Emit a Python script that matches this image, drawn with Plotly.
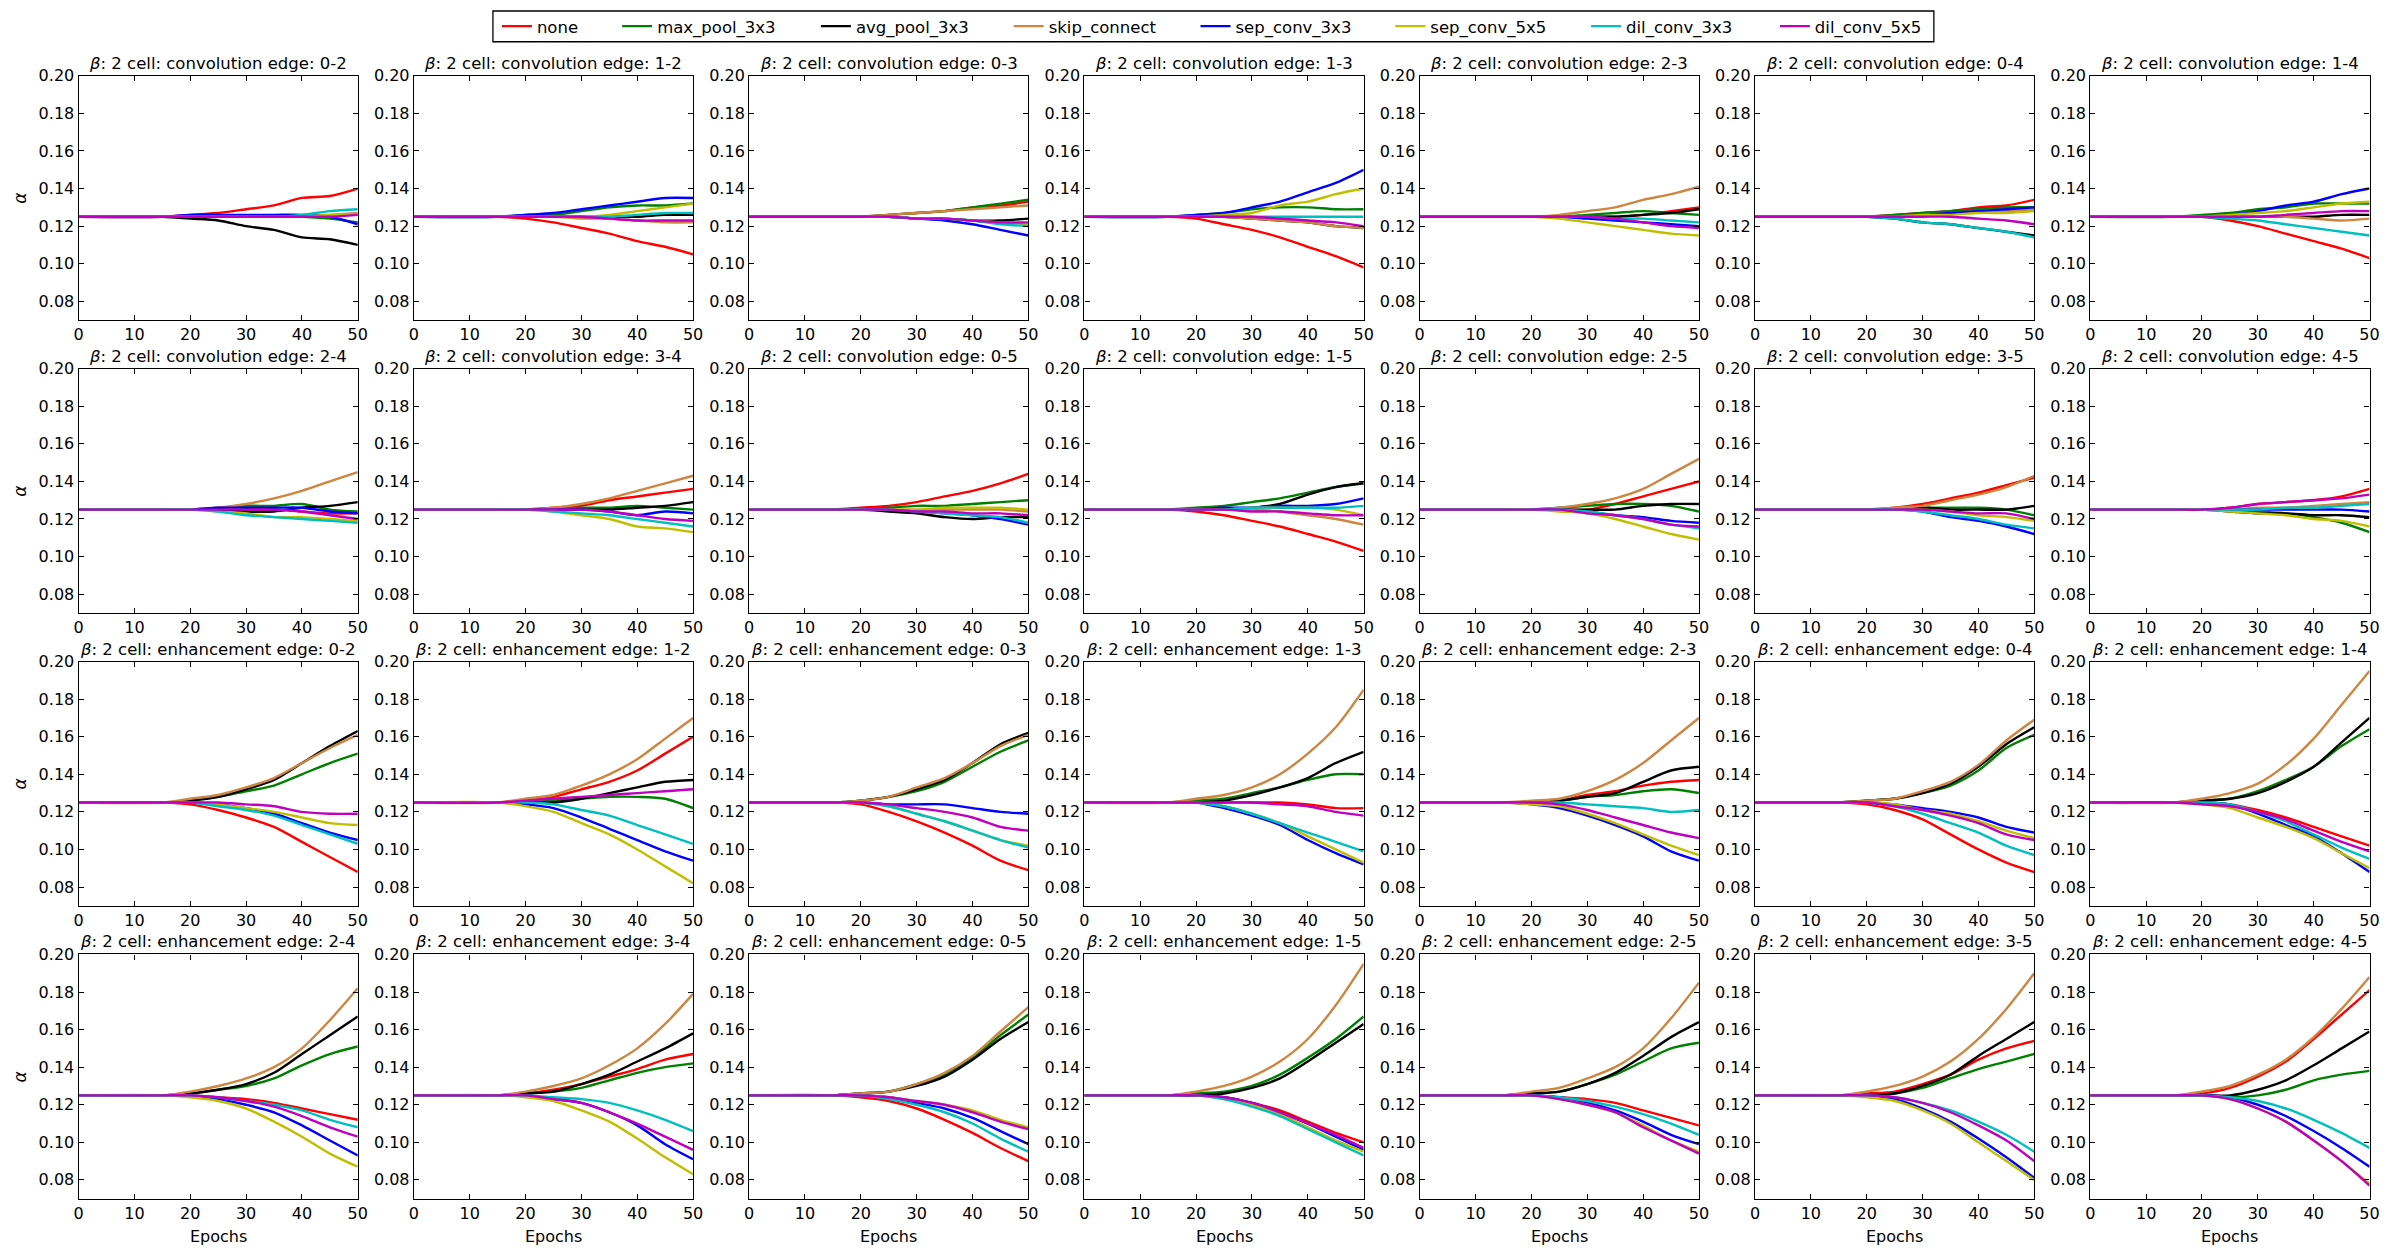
"""Architecture weights (alpha) per edge of a beta=2 cell over 50 search epochs.

4 x 7 grid of panels: two rows of convolution-cell edges, two rows of
enhancement-cell edges, eight candidate operations per panel.
"""

import plotly.graph_objects as go

OPS = ["none", "max_pool_3x3", "avg_pool_3x3", "skip_connect",
       "sep_conv_3x3", "sep_conv_5x5", "dil_conv_3x3", "dil_conv_5x5"]
COLORS = ["#ff0000", "#008000", "#000000", "#cd853f",
          "#0000ff", "#bfbf00", "#00bfbf", "#bf00bf"]
EPOCHS = [0, 15, 20, 25, 30, 35, 40, 45, 50]

# rows follow OPS order; columns follow EPOCHS
CONV_0_2 = [
    [.125, .125, .126, .127, .129, .131, .135, .136, .140],
    [.125, .125, .125, .125, .125, .125, .125, .124, .122],
    [.125, .125, .124, .123, .120, .118, .114, .113, .110],
    [.125, .125, .125, .125, .125, .125, .125, .126, .127],
    [.125, .125, .126, .126, .126, .126, .126, .125, .121],
    [.125, .125, .125, .125, .125, .125, .125, .126, .126],
    [.125, .125, .125, .125, .125, .125, .126, .128, .129],
    [.125, .125, .125, .125, .125, .125, .125, .125, .126],
]
CONV_1_2 = [
    [.125, .125, .124, .122, .119, .116, .112, .109, .105],
    [.125, .125, .126, .126, .128, .130, .131, .131, .132],
    [.125, .125, .125, .125, .125, .125, .125, .126, .126],
    [.125, .125, .125, .125, .124, .124, .123, .122, .122],
    [.125, .125, .126, .127, .129, .131, .133, .135, .135],
    [.125, .125, .125, .125, .125, .126, .128, .130, .132],
    [.125, .125, .125, .125, .125, .125, .126, .127, .127],
    [.125, .125, .125, .125, .125, .124, .123, .123, .123],
]
CONV_0_3 = [
    [.125, .125, .125, .126, .127, .128, .130, .131, .133],
    [.125, .125, .125, .126, .127, .128, .130, .132, .134],
    [.125, .125, .125, .125, .124, .124, .123, .123, .124],
    [.125, .125, .125, .126, .127, .128, .129, .130, .131],
    [.125, .125, .125, .125, .124, .123, .121, .118, .115],
    [.125, .125, .125, .125, .124, .124, .123, .122, .121],
    [.125, .125, .125, .125, .124, .124, .123, .121, .120],
    [.125, .125, .125, .125, .124, .124, .123, .122, .122],
]
CONV_1_3 = [
    [.125, .125, .124, .121, .118, .114, .109, .104, .098],
    [.125, .125, .126, .127, .129, .130, .130, .129, .129],
    [.125, .125, .125, .125, .124, .123, .122, .120, .119],
    [.125, .125, .125, .125, .124, .123, .122, .120, .119],
    [.125, .125, .126, .127, .130, .133, .138, .143, .150],
    [.125, .125, .125, .126, .127, .131, .133, .137, .140],
    [.125, .125, .125, .125, .125, .125, .125, .125, .125],
    [.125, .125, .125, .125, .125, .124, .123, .122, .120],
]
CONV_2_3 = [
    [.125, .125, .125, .125, .125, .125, .126, .128, .130],
    [.125, .125, .125, .125, .126, .127, .128, .127, .126],
    [.125, .125, .125, .125, .125, .125, .126, .127, .129],
    [.125, .125, .125, .126, .128, .130, .134, .137, .141],
    [.125, .125, .125, .125, .124, .123, .122, .121, .120],
    [.125, .125, .125, .124, .122, .120, .118, .116, .115],
    [.125, .125, .125, .125, .125, .124, .124, .123, .122],
    [.125, .125, .125, .125, .125, .124, .122, .120, .119],
]
CONV_0_4 = [
    [.125, .125, .125, .126, .127, .128, .130, .131, .134],
    [.125, .125, .125, .126, .127, .128, .129, .130, .130],
    [.125, .125, .125, .124, .122, .121, .119, .117, .115],
    [.125, .125, .125, .125, .126, .127, .128, .128, .129],
    [.125, .125, .125, .125, .126, .127, .128, .129, .130],
    [.125, .125, .125, .125, .126, .126, .127, .127, .128],
    [.125, .125, .125, .124, .122, .121, .119, .117, .114],
    [.125, .125, .125, .125, .125, .125, .124, .123, .121],
]
CONV_1_4 = [
    [.125, .125, .125, .123, .120, .116, .112, .108, .103],
    [.125, .125, .126, .127, .129, .130, .132, .132, .132],
    [.125, .125, .125, .125, .125, .125, .125, .126, .126],
    [.125, .125, .125, .125, .125, .125, .124, .123, .124],
    [.125, .125, .125, .126, .128, .131, .133, .137, .140],
    [.125, .125, .125, .126, .127, .128, .130, .132, .133],
    [.125, .125, .125, .124, .123, .121, .119, .117, .115],
    [.125, .125, .125, .125, .125, .126, .127, .128, .128],
]
CONV_2_4 = [
    [.125, .125, .125, .125, .125, .125, .124, .123, .123],
    [.125, .125, .125, .126, .127, .127, .128, .125, .124],
    [.125, .125, .125, .125, .124, .124, .126, .127, .129],
    [.125, .125, .125, .126, .128, .131, .135, .140, .145],
    [.125, .125, .125, .126, .126, .126, .126, .124, .123],
    [.125, .125, .125, .124, .123, .121, .121, .120, .119],
    [.125, .125, .125, .124, .122, .121, .120, .119, .118],
    [.125, .125, .125, .125, .125, .125, .124, .122, .120],
]
CONV_3_4 = [
    [.125, .125, .125, .126, .127, .130, .132, .134, .136],
    [.125, .125, .125, .125, .126, .126, .127, .126, .125],
    [.125, .125, .125, .125, .125, .125, .126, .127, .129],
    [.125, .125, .125, .126, .128, .131, .135, .139, .143],
    [.125, .125, .125, .125, .125, .124, .122, .124, .123],
    [.125, .125, .125, .124, .122, .120, .116, .115, .113],
    [.125, .125, .125, .124, .123, .122, .120, .118, .116],
    [.125, .125, .125, .125, .125, .124, .122, .120, .119],
]
CONV_0_5 = [
    [.125, .125, .126, .127, .129, .132, .135, .139, .144],
    [.125, .125, .125, .126, .127, .127, .128, .129, .130],
    [.125, .125, .125, .124, .123, .121, .120, .121, .121],
    [.125, .125, .125, .125, .125, .125, .125, .125, .124],
    [.125, .125, .125, .125, .124, .123, .122, .120, .117],
    [.125, .125, .125, .125, .125, .126, .126, .126, .125],
    [.125, .125, .125, .125, .124, .123, .122, .121, .118],
    [.125, .125, .125, .125, .124, .124, .123, .123, .122],
]
CONV_1_5 = [
    [.125, .125, .124, .122, .119, .116, .112, .108, .103],
    [.125, .125, .126, .127, .129, .131, .134, .137, .139],
    [.125, .125, .125, .125, .126, .128, .133, .137, .139],
    [.125, .125, .125, .125, .125, .124, .122, .120, .117],
    [.125, .125, .125, .126, .126, .127, .127, .128, .131],
    [.125, .125, .125, .125, .126, .126, .126, .125, .122],
    [.125, .125, .125, .125, .126, .126, .126, .126, .127],
    [.125, .125, .125, .125, .124, .124, .123, .122, .122],
]
CONV_2_5 = [
    [.125, .125, .125, .125, .125, .128, .132, .136, .140],
    [.125, .125, .125, .126, .127, .128, .128, .127, .124],
    [.125, .125, .125, .125, .125, .125, .127, .128, .128],
    [.125, .125, .125, .126, .128, .131, .136, .144, .152],
    [.125, .125, .125, .125, .124, .122, .121, .119, .118],
    [.125, .125, .125, .124, .123, .120, .116, .112, .109],
    [.125, .125, .125, .125, .124, .122, .120, .117, .115],
    [.125, .125, .125, .125, .123, .122, .120, .117, .116],
]
CONV_3_5 = [
    [.125, .125, .125, .126, .128, .131, .134, .138, .142],
    [.125, .125, .125, .125, .126, .126, .126, .125, .122],
    [.125, .125, .125, .125, .126, .125, .125, .125, .127],
    [.125, .125, .125, .126, .127, .130, .133, .137, .143],
    [.125, .125, .125, .125, .124, .121, .119, .116, .112],
    [.125, .125, .125, .125, .125, .124, .122, .121, .119],
    [.125, .125, .125, .125, .124, .122, .120, .117, .115],
    [.125, .125, .125, .125, .125, .124, .123, .123, .120],
]
CONV_4_5 = [
    [.125, .125, .125, .126, .128, .129, .130, .132, .136],
    [.125, .125, .125, .125, .124, .123, .121, .118, .113],
    [.125, .125, .125, .124, .123, .123, .122, .122, .121],
    [.125, .125, .125, .125, .126, .126, .127, .128, .129],
    [.125, .125, .125, .125, .125, .125, .125, .125, .124],
    [.125, .125, .125, .124, .123, .122, .120, .119, .116],
    [.125, .125, .125, .125, .125, .126, .126, .127, .128],
    [.125, .125, .125, .126, .128, .129, .130, .131, .133],
]
ENH_0_2 = [
    [.125, .125, .124, .121, .117, .112, .104, .096, .088],
    [.125, .125, .126, .128, .131, .134, .140, .146, .151],
    [.125, .125, .126, .128, .132, .137, .146, .155, .163],
    [.125, .125, .127, .129, .133, .138, .146, .154, .161],
    [.125, .125, .125, .124, .122, .119, .114, .109, .105],
    [.125, .125, .125, .124, .122, .120, .117, .114, .113],
    [.125, .125, .125, .123, .121, .118, .113, .108, .103],
    [.125, .125, .125, .125, .124, .123, .120, .119, .119],
]
ENH_1_2 = [
    [.125, .125, .126, .128, .132, .136, .142, .151, .160],
    [.125, .125, .125, .126, .127, .128, .128, .127, .122],
    [.125, .125, .125, .125, .127, .130, .133, .136, .137],
    [.125, .125, .127, .129, .134, .140, .148, .159, .170],
    [.125, .125, .124, .122, .117, .111, .105, .099, .094],
    [.125, .125, .123, .120, .114, .108, .100, .091, .082],
    [.125, .125, .125, .124, .121, .118, .113, .108, .103],
    [.125, .125, .126, .127, .128, .129, .130, .131, .132],
]
ENH_0_3 = [
    [.125, .125, .124, .120, .115, .109, .102, .094, .089],
    [.125, .125, .126, .128, .131, .136, .144, .152, .158],
    [.125, .125, .126, .128, .132, .137, .146, .156, .162],
    [.125, .125, .126, .128, .133, .138, .146, .155, .161],
    [.125, .125, .125, .124, .124, .124, .122, .120, .119],
    [.125, .125, .125, .123, .119, .115, .110, .105, .102],
    [.125, .125, .125, .123, .119, .115, .110, .105, .101],
    [.125, .125, .125, .124, .122, .120, .117, .112, .110],
]
ENH_1_3 = [
    [.125, .125, .125, .125, .125, .125, .124, .122, .122],
    [.125, .125, .126, .127, .130, .133, .137, .140, .140],
    [.125, .125, .125, .126, .129, .133, .138, .146, .152],
    [.125, .125, .127, .129, .133, .140, .151, .165, .185],
    [.125, .125, .125, .122, .118, .113, .105, .098, .092],
    [.125, .125, .125, .123, .119, .114, .107, .100, .093],
    [.125, .125, .125, .123, .119, .114, .109, .104, .099],
    [.125, .125, .125, .125, .125, .124, .123, .120, .118],
]
ENH_2_3 = [
    [.125, .125, .125, .126, .129, .131, .134, .136, .137],
    [.125, .125, .125, .126, .128, .129, .131, .132, .130],
    [.125, .125, .125, .126, .128, .130, .136, .142, .144],
    [.125, .125, .126, .127, .131, .137, .146, .158, .170],
    [.125, .125, .124, .122, .118, .113, .107, .099, .094],
    [.125, .125, .124, .123, .119, .114, .108, .102, .097],
    [.125, .125, .125, .125, .124, .123, .122, .120, .121],
    [.125, .125, .125, .124, .121, .117, .113, .109, .106],
]
ENH_0_4 = [
    [.125, .125, .124, .121, .116, .108, .100, .093, .088],
    [.125, .125, .126, .127, .130, .134, .142, .154, .161],
    [.125, .125, .126, .127, .130, .135, .144, .156, .165],
    [.125, .125, .126, .127, .131, .136, .145, .158, .169],
    [.125, .125, .125, .124, .122, .120, .117, .112, .109],
    [.125, .125, .125, .124, .121, .119, .115, .110, .106],
    [.125, .125, .125, .123, .119, .114, .109, .102, .097],
    [.125, .125, .125, .123, .121, .118, .114, .108, .105],
]
ENH_1_4 = [
    [.125, .125, .125, .124, .121, .117, .112, .107, .102],
    [.125, .125, .126, .127, .131, .137, .144, .155, .164],
    [.125, .125, .126, .127, .130, .136, .144, .157, .170],
    [.125, .125, .127, .130, .135, .145, .159, .177, .195],
    [.125, .125, .125, .124, .119, .113, .107, .098, .088],
    [.125, .125, .124, .122, .117, .112, .106, .098, .090],
    [.125, .125, .125, .124, .120, .115, .108, .101, .095],
    [.125, .125, .124, .123, .120, .116, .110, .104, .099],
]
ENH_2_4 = [
    [.125, .125, .125, .124, .123, .121, .118, .115, .112],
    [.125, .125, .126, .128, .130, .134, .141, .147, .151],
    [.125, .125, .126, .128, .131, .137, .147, .157, .167],
    [.125, .125, .127, .130, .134, .140, .150, .165, .182],
    [.125, .125, .125, .123, .120, .116, .109, .101, .093],
    [.125, .125, .124, .122, .118, .111, .103, .094, .087],
    [.125, .125, .125, .124, .122, .120, .117, .112, .108],
    [.125, .125, .125, .124, .122, .119, .114, .108, .103],
]
ENH_3_4 = [
    [.125, .125, .126, .128, .131, .135, .139, .144, .147],
    [.125, .125, .126, .127, .129, .133, .137, .140, .142],
    [.125, .125, .126, .127, .131, .136, .143, .150, .158],
    [.125, .125, .127, .130, .134, .141, .150, .163, .179],
    [.125, .125, .125, .123, .121, .116, .109, .099, .091],
    [.125, .125, .124, .122, .117, .111, .102, .092, .083],
    [.125, .125, .125, .124, .123, .121, .117, .112, .106],
    [.125, .125, .125, .123, .121, .116, .110, .103, .096],
]
ENH_0_5 = [
    [.125, .125, .124, .122, .118, .112, .105, .097, .090],
    [.125, .125, .126, .127, .131, .136, .145, .157, .168],
    [.125, .125, .126, .127, .130, .135, .144, .155, .164],
    [.125, .125, .126, .127, .131, .137, .146, .159, .172],
    [.125, .125, .125, .124, .121, .118, .113, .106, .099],
    [.125, .125, .125, .124, .122, .120, .117, .112, .108],
    [.125, .125, .125, .123, .120, .116, .110, .102, .095],
    [.125, .125, .125, .124, .122, .120, .116, .111, .107],
]
ENH_1_5 = [
    [.125, .125, .125, .124, .121, .117, .111, .105, .100],
    [.125, .125, .126, .127, .130, .136, .145, .155, .167],
    [.125, .125, .125, .126, .129, .134, .143, .153, .163],
    [.125, .125, .127, .130, .135, .143, .155, .173, .195],
    [.125, .125, .125, .124, .121, .116, .110, .103, .096],
    [.125, .125, .125, .123, .120, .115, .108, .101, .095],
    [.125, .125, .125, .123, .119, .114, .107, .100, .093],
    [.125, .125, .125, .124, .121, .116, .110, .104, .097],
]
ENH_2_5 = [
    [.125, .125, .125, .124, .123, .121, .117, .113, .109],
    [.125, .125, .126, .127, .131, .136, .143, .150, .153],
    [.125, .125, .126, .127, .131, .137, .146, .156, .164],
    [.125, .125, .127, .129, .134, .140, .150, .166, .185],
    [.125, .125, .125, .124, .121, .117, .111, .104, .099],
    [.125, .125, .125, .123, .120, .116, .109, .101, .095],
    [.125, .125, .125, .124, .122, .119, .115, .110, .104],
    [.125, .125, .125, .123, .120, .116, .108, .101, .094],
]
ENH_3_5 = [
    [.125, .125, .126, .127, .131, .136, .144, .150, .154],
    [.125, .125, .125, .126, .129, .134, .139, .143, .147],
    [.125, .125, .125, .126, .130, .136, .146, .155, .164],
    [.125, .125, .127, .130, .135, .143, .155, .171, .190],
    [.125, .125, .125, .123, .118, .111, .102, .092, .081],
    [.125, .125, .124, .122, .117, .110, .100, .090, .080],
    [.125, .125, .125, .124, .121, .117, .111, .104, .095],
    [.125, .125, .125, .124, .121, .116, .109, .101, .090],
]
ENH_4_5 = [
    [.125, .125, .126, .129, .135, .143, .155, .168, .181],
    [.125, .125, .125, .124, .125, .128, .133, .136, .138],
    [.125, .125, .125, .125, .128, .133, .141, .150, .159],
    [.125, .125, .127, .130, .136, .144, .156, .171, .188],
    [.125, .125, .125, .124, .120, .114, .106, .097, .087],
    [.125, .125, .125, .123, .118, .111, .101, .090, .078],
    [.125, .125, .125, .124, .122, .118, .112, .105, .097],
    [.125, .125, .125, .123, .118, .111, .101, .090, .077],
]

PANELS = [
    ("convolution", "0-2", CONV_0_2), ("convolution", "1-2", CONV_1_2),
    ("convolution", "0-3", CONV_0_3), ("convolution", "1-3", CONV_1_3),
    ("convolution", "2-3", CONV_2_3), ("convolution", "0-4", CONV_0_4),
    ("convolution", "1-4", CONV_1_4), ("convolution", "2-4", CONV_2_4),
    ("convolution", "3-4", CONV_3_4), ("convolution", "0-5", CONV_0_5),
    ("convolution", "1-5", CONV_1_5), ("convolution", "2-5", CONV_2_5),
    ("convolution", "3-5", CONV_3_5), ("convolution", "4-5", CONV_4_5),
    ("enhancement", "0-2", ENH_0_2), ("enhancement", "1-2", ENH_1_2),
    ("enhancement", "0-3", ENH_0_3), ("enhancement", "1-3", ENH_1_3),
    ("enhancement", "2-3", ENH_2_3), ("enhancement", "0-4", ENH_0_4),
    ("enhancement", "1-4", ENH_1_4), ("enhancement", "2-4", ENH_2_4),
    ("enhancement", "3-4", ENH_3_4), ("enhancement", "0-5", ENH_0_5),
    ("enhancement", "1-5", ENH_1_5), ("enhancement", "2-5", ENH_2_5),
    ("enhancement", "3-5", ENH_3_5), ("enhancement", "4-5", ENH_4_5),
]

# page geometry in pixels
W, H = 2400, 1251
N_COLS = 7
COL_LEFT, COL_STEP, PLOT_W = 74.0, 337.4, 281.0
ROW_TOP, ROW_STEP, PLOT_H = 67.3, 295.0, 246.0
FONT = "DejaVu Sans"
# legend: where each entry's line starts, and the frame around all of them
LEGEND_X = [501, 622, 822, 1016, 1204, 1400, 1597, 1787]
LEGEND_BOX = (491, 2, 1941, 33)

fig = go.Figure()
annotations = []

for i, (cell, edge, series) in enumerate(PANELS):
    r, c = divmod(i, N_COLS)
    ax = "" if i == 0 else str(i + 1)
    x0 = (COL_LEFT + c * COL_STEP) / W
    x1 = (COL_LEFT + c * COL_STEP + PLOT_W) / W
    y1 = 1 - (ROW_TOP + r * ROW_STEP) / H
    y0 = 1 - (ROW_TOP + r * ROW_STEP + PLOT_H) / H

    for k, op in enumerate(OPS):
        fig.add_trace(go.Scatter(
            x=EPOCHS, y=series[k], mode="lines",
            line=dict(color=COLORS[k], width=2.4, shape="spline", smoothing=0.8),
            name=op, showlegend=(i == 0),
            legend="legend" if k == 0 else f"legend{k + 1}",
            xaxis="x" + ax, yaxis="y" + ax, hoverinfo="skip",
        ))

    common = dict(
        showline=True, linecolor="black", linewidth=1.2, mirror="allticks",
        ticks="inside", ticklen=5, tickwidth=1, tickcolor="black",
        showgrid=False, zeroline=False,
        tickfont=dict(family=FONT, size=16, color="black"),
    )
    fig.update_layout({
        "xaxis" + ax: dict(domain=[x0, x1], anchor="y" + ax, range=[0, 50],
                           tickvals=[0, 10, 20, 30, 40, 50], **common),
        "yaxis" + ax: dict(domain=[y0, y1], anchor="x" + ax, range=[0.07, 0.20],
                           tickvals=[0.08, 0.10, 0.12, 0.14, 0.16, 0.18, 0.20],
                           tickformat=".2f", **common),
    })

    annotations.append(dict(
        text=f"<i>β</i>: 2 cell: {cell} edge: {edge}",
        xref="paper", yref="paper", x=(x0 + x1) / 2, y=y1,
        xanchor="center", yanchor="bottom", yshift=1, showarrow=False,
        font=dict(family=FONT, size=16.5, color="black"),
    ))
    if c == 0:
        annotations.append(dict(
            text="<i>α</i>", xref="paper", yref="paper", x=15 / W, y=(y0 + y1) / 2,
            xanchor="center", yanchor="middle", textangle=-90, showarrow=False,
            font=dict(family=FONT, size=17, color="black"),
        ))
    if r == 3:
        annotations.append(dict(
            text="Epochs", xref="paper", yref="paper", x=(x0 + x1) / 2, y=y0,
            xanchor="center", yanchor="middle", yshift=-38, showarrow=False,
            font=dict(family=FONT, size=16, color="black"),
        ))

legends = {}
for k in range(len(OPS)):
    key = "legend" if k == 0 else f"legend{k + 1}"
    legends[key] = dict(
        orientation="h", x=(LEGEND_X[k] - 6) / W, xanchor="left",
        y=1 - 17.5 / H, yanchor="middle",
        bgcolor="rgba(0,0,0,0)", borderwidth=0, itemwidth=30,
        font=dict(family=FONT, size=16.5, color="black"),
    )

fig.update_layout(
    width=W, height=H,
    margin=dict(l=0, r=0, t=0, b=0),
    paper_bgcolor="white", plot_bgcolor="white",
    annotations=annotations,
    showlegend=True,
    shapes=[dict(
        type="rect", xref="paper", yref="paper",
        x0=LEGEND_BOX[0] / W, x1=LEGEND_BOX[2] / W,
        y0=1 - LEGEND_BOX[3] / H, y1=1 - LEGEND_BOX[1] / H,
        line=dict(color="black", width=1.3), fillcolor="rgba(0,0,0,0)",
    )],
    **legends,
)

# the page is photographed edge to edge, so drop the default body margin
fig.write_html(
    "out.html",
    config={"displayModeBar": False},
    post_script="document.body.style.margin='0px';",
)
